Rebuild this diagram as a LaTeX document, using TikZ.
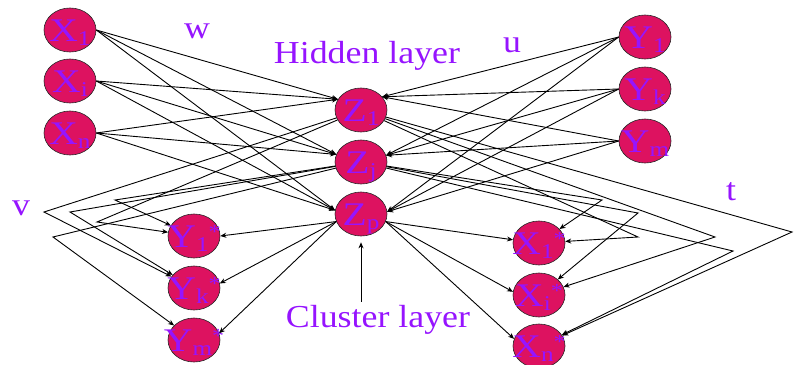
\documentclass[tikz,border=0pt]{standalone}
\usepackage{fontspec}
\usepackage{graphicx}
\setmainfont{Liberation Serif}
\usetikzlibrary{arrows.meta,shapes.geometric}

\definecolor{unitfill}{RGB}{221,18,96}
\definecolor{violettext}{RGB}{150,20,255}

% subscript index and star mark inside the units
\newcommand{\lowidx}[1]{\raisebox{-4pt}{\fontsize{21}{21}\selectfont #1}}
\newcommand{\starmark}{\raisebox{9pt}{\fontsize{20}{20}\selectfont *}}
% unit texts: zero-size box so that the ellipse keeps its own size
\newcommand{\unittext}[2]{\makebox[0pt]{\raisebox{-11pt}[0pt][0pt]{\scalebox{1.2}[1]{#1\lowidx{#2}}}}}
\newcommand{\startext}[2]{\makebox[0pt]{\raisebox{-11pt}[0pt][0pt]{\scalebox{1.2}[1]{#1\lowidx{#2}\starmark}}}}
\newcommand{\widetext}[1]{\scalebox{1.12}[1]{#1}}

\tikzset{
  unit/.style={ellipse, draw=black!85, line width=0.6pt, fill=unitfill,
    minimum width=52pt, minimum height=44pt, inner sep=0pt,
    text=violettext, font=\fontsize{33}{33}\selectfont},
  lab/.style={text=violettext, font=\fontsize{32}{32}\selectfont,
    inner sep=0pt, anchor=base},
  wire/.style={draw=black, line width=0.9pt},
  arr/.style={wire, -{Stealth[length=6pt,width=5pt]}}
}

\begin{document}
\begin{tikzpicture}[x=1pt,y=-1pt]
\useasboundingbox (0,0) rectangle (794,364);
\clip (0,0) rectangle (794,364);

% input units
\node[unit] (X1) at (70,30)  {\unittext{X}{1}};
\node[unit] (Xi) at (70,81)  {\unittext{X}{i}};
\node[unit] (Xn) at (70,133) {\unittext{X}{n}};
% hidden (cluster) units
\node[unit] (Z1) at (361,110) {\unittext{Z}{1}};
\node[unit] (Zj) at (361,162) {\unittext{Z}{j}};
\node[unit] (Zp) at (361,214) {\unittext{Z}{p}};
% second input group
\node[unit] (Y1) at (645,37)  {\unittext{Y}{1}};
\node[unit] (Yk) at (645,89)  {\unittext{Y}{k}};
\node[unit] (Ym) at (645,141) {\unittext{Y}{m}};
% output units
\node[unit] (Y1s) at (194,236) {\startext{Y}{1}};
\node[unit] (Yks) at (194,288) {\startext{Y}{k}};
\node[unit] (Yms) at (194,340) {\startext{Y}{m}};
\node[unit] (X1s) at (539,243) {\startext{X}{1}};
\node[unit] (Xis) at (539,295) {\startext{X}{i}};
\node[unit] (Xns) at (539,346) {\startext{X}{n}};

% labels
\node[lab] (w) at (197,38) {\widetext{w}};
\node[lab] (u) at (512,52) {\widetext{u}};
\node[lab] (v) at (21,215) {\widetext{v}};
\node[lab] (t) at (731,200) {\widetext{t}};
\node[lab] (hidden) at (367,63) {\widetext{Hidden layer}};
\node[lab] (cluster) at (378,327) {\widetext{Cluster layer}};

% bend points of the v connections
\coordinate (A) at (44,212);
\coordinate (B) at (70,212);
\coordinate (C) at (115,200);
\coordinate (D) at (97,222);
\coordinate (E) at (53,237);
% bend points of the t connections
\coordinate (F) at (602,200);
\coordinate (G) at (638,213);
\coordinate (H) at (638,237);
\coordinate (I) at (715,237);
\coordinate (J) at (733,251);
\coordinate (K) at (792,232);

% w: X -> Z
\foreach \s in {X1,Xi,Xn}{
  \draw[arr] (\s.east) -- (Z1.155);
  \draw[arr] (\s.east) -- (Zj.163);
  \draw[arr] (\s.east) -- (Zp.172);
}
% u: Y -> Z
\foreach \s in {Y1,Yk,Ym}{
  \draw[arr] (\s.west) -- (Z1.32);
  \draw[arr] (\s.west) -- (Zj.15);
  \draw[arr] (\s.west) -- (Zp.5);
}

% v: Z -> Y*
\draw[arr] (Z1) -- (A) -- (Yks);
\draw[arr] (Z1) -- (D) -- (Y1s);
\draw[arr] (Zj) -- (B) -- (Yks);
\draw[arr] (Zj) -- (C) -- (Y1s);
\draw[arr] (Zj) -- (E) -- (Yms);
\draw[arr] (Zp.197) -- (Y1s.east);
\draw[arr] (Zp.197) -- (Yks.10);
\draw[arr] (Zp.197) -- (Yms.15);

% t: Z -> X*
\draw[arr] (Z1) -- (H) -- (X1s);
\draw[arr] (Z1) -- (I) -- (Xis);
\draw[arr] (Z1) -- (K) -- (Xns);
\draw[arr] (Zj) -- (F) -- (X1s);
\draw[arr] (Zj) -- (G) -- (Xis);
\draw[arr] (Zj) -- (J) -- (Xns);
\draw[arr] (Zp.343) -- (X1s.173);
\draw[arr] (Zp.343) -- (Xis.173);
\draw[arr] (Zp.343) -- (Xns.164);

% pointer to the cluster layer
\draw[arr, shorten <=3pt, shorten >=6pt] (Zp.south |- cluster.north) -- (Zp.south);
\end{tikzpicture}
\end{document}
